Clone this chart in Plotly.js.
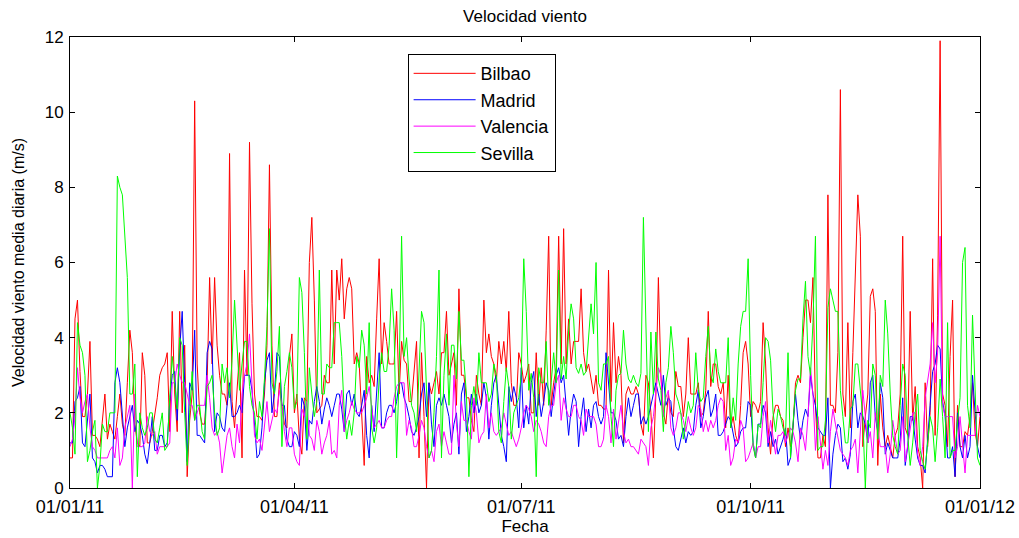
<!DOCTYPE html>
<html>
<head>
<meta charset="utf-8">
<script src="https://cdn.plot.ly/plotly-3.0.1.min.js"></script>
<style>html,body{margin:0;padding:0;background:#fff;}#chart{width:1019px;height:538px;}</style>
</head>
<body>
<div id="chart"></div>
<script>
// Daily values, 01/01/2011 .. 01/01/2012 (366 points)
const startDate = '2011-01-01';
const seriesNames = ['Bilbao', 'Madrid', 'Valencia', 'Sevilla'];
const tickLabels = ['01/01/11', '01/04/11', '01/07/11', '01/10/11', '01/01/12'];
const tickDates = ['2011-01-01', '2011-04-01', '2011-07-01', '2011-10-01', '2012-01-01'];

const bilbao = [
0.8,0.8,4.5,5.0,3.1,1.9,1.9,2.5,3.9,1.4,1.4,1.3,1.1,1.8,2.5,1.3,1.7,1.5,1.3,1.9,2.5,1.7,1.4,2.8,4.2,3.6,1.7,1.2,1.1,3.6,3.0,
1.2,1.2,1.5,1.9,2.4,3.0,3.2,3.3,3.6,1.5,4.7,2.5,1.5,4.7,2.0,3.8,0.3,1.8,2.5,10.3,3.3,2.0,1.7,1.7,2.8,5.6,3.3,5.6,3.8,3.0,
2.5,2.5,2.2,8.9,2.3,1.6,2.5,3.6,0.8,5.8,3.0,9.2,4.9,2.5,1.9,1.9,1.8,2.5,3.8,8.6,3.8,1.9,1.9,2.8,2.2,1.7,1.6,3.5,4.1,2.0,
2.5,1.3,0.9,2.4,2.3,6.0,7.2,5.0,2.0,2.1,2.2,3.0,2.8,2.8,5.8,3.3,5.8,5.0,6.1,4.5,5.3,5.6,5.3,3.3,3.6,3.3,2.0,0.6,3.5,2.8,
3.0,2.7,4.5,6.1,3.3,4.4,3.9,3.3,3.3,3.3,4.7,2.5,3.9,3.4,3.3,2.3,2.3,3.0,3.9,0.8,3.6,1.9,0.0,2.8,2.5,2.8,3.1,2.5,3.6,3.6,4.7,3.0,
3.3,3.6,2.2,5.3,3.0,3.0,2.4,2.4,1.8,1.5,3.0,2.5,2.2,5.0,3.6,4.1,3.5,3.3,2.8,3.9,3.3,3.9,3.1,4.7,2.8,2.2,2.2,3.6,3.3,2.8,
3.0,3.3,2.0,2.0,3.6,2.2,3.2,2.2,4.2,6.7,2.2,2.8,3.2,6.7,3.3,6.9,3.3,4.5,3.3,3.9,3.9,3.9,5.3,3.6,3.1,3.3,2.9,2.5,3.0,2.2,2.2,
2.1,2.1,5.8,2.3,4.4,2.8,3.5,3.0,1.2,2.5,2.7,2.5,2.5,2.7,2.5,1.7,1.4,3.0,2.8,2.0,0.8,2.5,5.6,3.0,2.0,1.7,2.5,2.0,1.9,3.1,
2.7,2.7,1.9,2.5,4.0,2.5,2.5,2.5,2.8,1.9,2.0,2.6,4.7,2.7,3.3,3.3,2.7,2.5,2.8,1.6,3.0,1.6,1.9,1.4,1.2,2.2,3.6,3.9,3.3,1.9,2.3,
2.2,2.0,2.3,4.4,3.3,1.6,0.9,1.9,2.2,2.2,1.9,1.8,1.1,1.6,1.1,1.6,2.8,3.0,2.8,4.0,5.0,5.0,4.4,5.6,2.2,0.8,0.8,1.4,1.1,7.8,
2.2,2.2,2.0,3.6,10.6,2.5,1.9,4.4,1.6,3.6,5.8,7.8,6.7,1.1,1.9,2.5,5.1,5.3,4.7,0.6,2.5,1.6,1.1,1.4,1.1,0.8,1.4,1.6,2.5,6.7,1.6,
1.4,4.7,1.8,2.7,1.1,0.8,0.0,2.8,1.1,2.0,6.1,1.4,4.6,11.9,2.5,2.2,1.1,3.5,5.0,0.3,2.2,1.1,1.1,1.5,1.4,1.9,2.8,1.5,1.1,1.9
];

const madrid = [
1.2,1.2,2.3,2.4,2.7,1.2,1.1,1.8,2.5,0.8,0.7,0.4,0.6,0.6,0.5,0.3,0.3,0.3,2.8,3.2,2.8,1.9,1.1,1.6,1.9,2.2,1.5,1.8,1.7,1.4,0.9,
0.65,1.2,1.9,1.0,1.0,1.4,1.4,1.1,1.2,2.3,3.0,3.1,1.8,3.7,4.7,2.8,0.7,2.8,2.6,4.2,1.4,1.4,1.3,1.2,3.6,3.9,3.7,1.5,2.0,1.9,
1.6,1.5,2.2,2.8,1.9,1.9,2.0,2.2,2.0,3.0,3.0,3.0,2.6,1.6,0.8,0.9,1.6,2.8,3.4,3.6,2.0,2.5,3.6,3.5,2.2,2.2,1.3,1.1,1.1,1.5,
1.4,1.1,2.4,2.2,1.0,1.8,1.7,2.3,2.7,2.3,1.7,2.1,2.4,2.2,1.9,2.2,2.5,2.5,2.1,1.5,2.5,2.6,2.2,2.5,2.0,1.9,2.2,2.6,1.4,0.8,
2.2,1.5,2.5,3.6,1.6,1.6,2.0,2.2,2.2,2.0,2.3,2.8,2.8,2.4,2.2,1.9,1.5,1.4,1.6,1.9,2.5,2.8,1.9,2.8,1.7,1.1,2.2,2.4,2.2,2.5,2.2,1.9,
1.2,1.7,2.0,0.9,2.5,2.8,1.5,1.9,2.5,2.0,2.5,2.0,2.2,2.8,2.4,1.3,2.2,2.8,3.0,2.2,1.4,1.1,0.7,2.7,2.3,2.7,2.4,1.6,3.2,1.6,
2.2,1.7,2.8,3.1,1.9,2.5,1.9,2.3,2.8,2.6,1.9,2.5,3.0,3.2,2.8,3.0,2.2,1.4,2.1,2.5,2.3,1.1,1.9,2.4,1.5,2.1,1.6,2.2,2.3,1.9,1.7,
1.9,3.6,2.9,2.0,2.0,1.8,1.3,1.4,1.1,1.9,2.4,1.9,2.2,2.5,2.5,1.7,1.9,1.7,1.9,2.2,2.5,2.8,2.5,2.2,3.0,2.2,2.4,2.3,1.6,1.1,
1.0,1.3,1.6,1.2,1.5,1.4,1.5,2.2,2.6,1.6,1.9,2.4,2.6,1.9,2.1,2.5,1.4,1.4,1.5,1.7,1.9,1.8,1.4,1.1,1.2,1.5,1.6,1.6,2.3,2.2,1.2,
0.8,1.7,1.7,2.2,2.0,1.1,1.5,1.1,1.3,0.9,1.1,1.3,1.6,0.6,0.8,1.6,2.5,1.8,1.3,1.8,2.1,1.9,3.0,2.5,2.2,1.6,1.5,1.4,1.4,2.4,
0.0,0.9,1.4,1.7,1.6,0.7,0.8,0.5,0.9,2.3,2.5,1.6,2.0,1.9,1.7,1.2,2.8,3.0,1.9,1.5,2.8,2.4,0.9,1.2,1.0,0.8,0.8,0.8,1.3,2.4,0.6,
1.1,1.9,1.9,1.3,0.8,0.6,0.6,0.4,1.2,2.2,3.1,3.3,3.8,3.7,2.3,1.9,0.8,0.8,1.1,0.3,2.0,1.1,0.8,1.4,0.8,1.1,3.0,1.9,1.1,0.8
];

const valencia = [
1.1,1.3,1.9,3.2,2.4,2.0,2.3,2.5,1.6,1.1,1.0,0.8,0.8,0.8,0.8,0.8,1.0,1.1,0.8,1.6,0.6,0.8,1.6,1.9,2.2,0.0,2.5,1.1,1.1,1.1,1.2,
1.9,1.5,1.4,1.5,0.9,1.1,1.1,1.1,1.1,1.2,2.8,2.8,3.3,3.0,2.8,2.8,2.5,2.2,2.2,1.8,2.0,2.2,2.2,2.2,3.0,2.4,1.6,1.4,1.5,1.2,
0.4,0.9,1.4,1.6,1.1,0.8,1.7,1.2,2.5,3.0,3.3,4.1,2.8,1.4,1.2,1.3,1.0,1.7,2.3,1.5,1.8,2.1,2.0,2.6,2.2,1.5,1.1,1.6,1.6,0.9,
0.7,0.6,2.1,1.9,2.3,1.4,1.3,1.0,1.8,1.5,0.9,1.2,1.4,1.8,0.9,1.0,0.8,2.2,2.6,1.5,1.8,2.0,2.3,2.1,2.0,2.0,2.0,2.2,2.4,2.7,
2.2,1.6,1.7,1.8,1.6,1.6,1.8,1.9,1.9,2.4,2.7,2.8,2.8,2.8,1.4,1.8,1.6,1.1,1.1,1.4,1.8,1.6,1.1,0.8,1.0,0.7,1.5,1.7,1.1,1.5,1.2,0.9,
0.9,3.0,1.7,1.1,2.3,1.8,1.8,1.5,1.3,2.4,2.0,1.2,1.4,1.5,2.5,1.6,2.0,1.5,1.4,1.5,1.6,2.0,1.7,1.4,1.5,1.3,1.1,1.3,1.6,2.0,
2.2,2.1,1.9,1.5,1.8,1.7,1.5,1.2,1.1,1.9,2.2,2.2,2.8,3.0,1.8,2.4,2.1,1.9,1.9,2.2,2.2,1.9,1.8,1.4,2.1,1.9,1.9,1.9,1.7,1.1,1.1,
1.3,2.2,1.9,1.2,2.1,1.3,1.8,2.2,1.5,1.2,1.3,1.1,1.1,1.0,0.9,1.3,1.2,1.1,0.6,1.6,1.9,2.5,3.2,3.0,1.9,2.4,2.6,1.6,1.4,1.6,
2.0,2.0,1.8,1.5,1.9,1.6,1.4,1.6,2.2,2.1,1.5,1.8,1.5,1.8,1.6,1.8,2.2,2.4,2.3,1.0,1.4,0.6,0.8,1.3,1.2,1.8,1.6,0.7,0.8,1.0,1.2,
0.8,1.1,1.1,1.9,2.3,1.2,1.8,1.3,0.9,1.4,1.4,1.5,1.2,1.4,1.6,1.5,1.2,0.7,1.6,1.4,1.0,1.9,3.2,2.5,1.0,1.9,1.2,0.5,1.0,0.6,
1.5,2.1,1.7,1.3,1.0,0.9,0.8,0.6,1.0,1.1,1.3,0.4,1.5,2.6,1.9,1.2,1.5,0.8,2.0,1.6,1.1,1.1,1.1,0.4,0.9,1.8,1.3,0.9,1.0,1.9,0.7,
1.1,1.6,2.0,2.0,0.9,0.6,1.1,2.4,2.8,3.3,4.4,2.8,3.6,6.7,2.2,1.9,1.9,1.9,1.9,0.8,1.1,1.9,1.1,0.4,1.4,1.4,1.4,1.4,2.2,1.9
];

const sevilla = [
2.0,1.6,0.9,4.4,3.8,3.6,3.0,0.7,1.0,1.5,1.8,0.0,0.6,1.7,1.5,1.5,2.0,2.0,2.0,8.3,8.0,7.8,6.8,5.6,2.5,2.5,3.3,0.3,2.0,1.6,1.4,
1.6,2.0,2.0,1.3,1.2,1.6,2.0,1.0,1.1,2.4,3.5,2.8,2.1,4.0,3.8,2.0,0.6,2.0,3.1,1.8,2.2,2.2,1.5,1.3,2.7,2.8,3.0,2.0,1.4,1.6,
3.3,2.8,3.2,2.4,3.4,5.0,3.8,2.6,3.3,3.9,3.9,2.7,2.2,2.0,1.3,2.3,1.9,2.9,4.3,6.9,2.8,2.5,3.1,4.3,1.1,2.7,3.1,3.6,3.2,2.1,
2.3,5.6,5.2,3.6,1.3,3.2,2.5,1.9,2.3,5.8,2.5,2.5,3.3,3.2,3.2,4.4,4.4,4.4,3.5,2.0,1.3,1.8,1.4,2.0,3.5,3.2,4.2,3.8,2.5,4.4,
1.6,1.2,1.6,2.9,3.6,3.1,3.1,3.8,5.3,4.2,0.8,3.0,6.7,3.5,4.0,2.9,2.2,2.0,1.5,3.0,4.7,4.4,2.5,0.8,1.0,2.0,3.5,5.8,0.8,3.0,4.1,2.2,
3.8,3.8,2.9,4.7,3.4,3.4,2.5,0.3,2.2,2.7,2.2,3.6,2.8,2.8,2.8,2.3,2.5,3.3,3.0,1.5,1.2,2.3,3.2,2.7,1.3,2.0,2.2,2.4,3.0,6.1,
4.7,2.6,3.05,2.4,0.3,3.2,2.8,2.8,3.9,2.2,2.8,3.6,2.8,5.8,2.9,3.5,2.9,4.2,4.9,4.5,3.2,3.05,3.3,3.0,3.1,4.1,4.9,4.1,6.0,2.8,2.6,
3.3,3.3,3.5,1.9,1.1,2.6,3.0,3.05,4.2,3.3,2.9,2.8,3.0,2.8,2.7,3.05,7.2,4.0,1.5,4.15,2.5,4.15,2.9,2.6,1.5,2.8,3.2,4.3,3.6,2.5,
2.3,2.0,1.3,1.8,2.3,2.0,2.2,3.6,2.6,2.3,2.4,3.5,4.3,3.0,2.8,3.7,3.1,2.8,2.8,2.8,4.0,1.6,2.4,1.8,3.3,4.3,4.7,4.7,6.1,3.0,1.1,
0.8,1.7,1.6,2.8,4.0,3.9,3.4,2.0,1.5,2.1,1.9,1.6,1.4,3.6,0.8,1.7,2.6,2.9,2.9,4.5,5.5,3.5,3.0,4.4,6.7,1.0,1.1,1.1,1.8,4.8,
5.3,5.0,4.7,4.7,2.6,1.9,1.2,1.2,2.1,2.2,3.3,3.3,2.6,1.9,0.0,1.8,1.6,3.3,3.0,1.3,3.0,2.7,5.0,4.1,2.5,1.4,1.1,0.9,2.2,3.3,3.0,
1.4,0.6,1.2,2.0,2.5,1.0,0.7,0.5,1.3,1.9,1.6,0.7,1.6,2.9,1.9,0.8,4.4,0.8,1.0,1.0,1.8,2.4,6.0,6.4,2.2,1.6,4.6,2.8,0.8,0.6
];

const seriesValues = [bilbao, madrid, valencia, sevilla];
const seriesColors = ['#ff0000', '#0000ff', '#ff00ff', '#00ff00'];

function dayList(n) {
  const t0 = Date.parse(startDate + 'T00:00:00Z');
  const out = [];
  for (let i = 0; i < n; i++) out.push(new Date(t0 + i * 86400000).toISOString().slice(0, 10));
  return out;
}

const traces = seriesNames.map((name, k) => ({
  type: 'scatter',
  mode: 'lines',
  name: name,
  x: dayList(seriesValues[k].length),
  y: seriesValues[k],
  line: {color: seriesColors[k], width: 1}
}));

const fam = 'Arial, "Liberation Sans", sans-serif';

const layout = {
  width: 1019, height: 538,
  margin: {l: 70, r: 39, t: 37, b: 50},
  paper_bgcolor: '#fff', plot_bgcolor: '#fff',
  font: {family: fam, size: 16, color: '#000'},
  showlegend: true,
  title: {text: 'Velocidad viento', font: {family: fam, size: 17, color: '#000'},
          x: 0.5, xref: 'paper', y: 1 - 16 / 538, yref: 'container', yanchor: 'middle'},
  xaxis: {
    type: 'date', range: ['2011-01-01', '2012-01-01'],
    tickvals: tickDates, ticktext: tickLabels,
    showgrid: false, zeroline: false,
    showline: true, mirror: 'ticks', linecolor: '#000', linewidth: 1,
    ticks: 'inside', ticklen: 5, tickcolor: '#000',
    ticklabelstandoff: 2,
    tickfont: {family: fam, size: 18, color: '#000'},
    title: {text: 'Fecha', font: {family: fam, size: 17, color: '#000'}, standoff: 2}
  },
  yaxis: {
    range: [0, 12], tickvals: [0, 2, 4, 6, 8, 10, 12],
    showgrid: false, zeroline: false,
    showline: true, mirror: 'ticks', linecolor: '#000', linewidth: 1,
    ticks: 'inside', ticklen: 5, tickcolor: '#000',
    ticklabelstandoff: 2,
    tickfont: {family: fam, size: 17, color: '#000'},
    title: {text: 'Velocidad viento media diaria (m/s)', font: {family: fam, size: 16, color: '#000'}, standoff: 16}
  },
  legend: {
    x: 0.371, y: 0.962, xanchor: 'left', yanchor: 'top',
    bgcolor: '#fff', bordercolor: '#000', borderwidth: 1,
    font: {family: fam, size: 18, color: '#000'},
    itemwidth: 62,
    tracegroupgap: 0
  }
};

Plotly.newPlot('chart', traces, layout, {displayModeBar: false, staticPlot: true});
</script>
</body>
</html>
